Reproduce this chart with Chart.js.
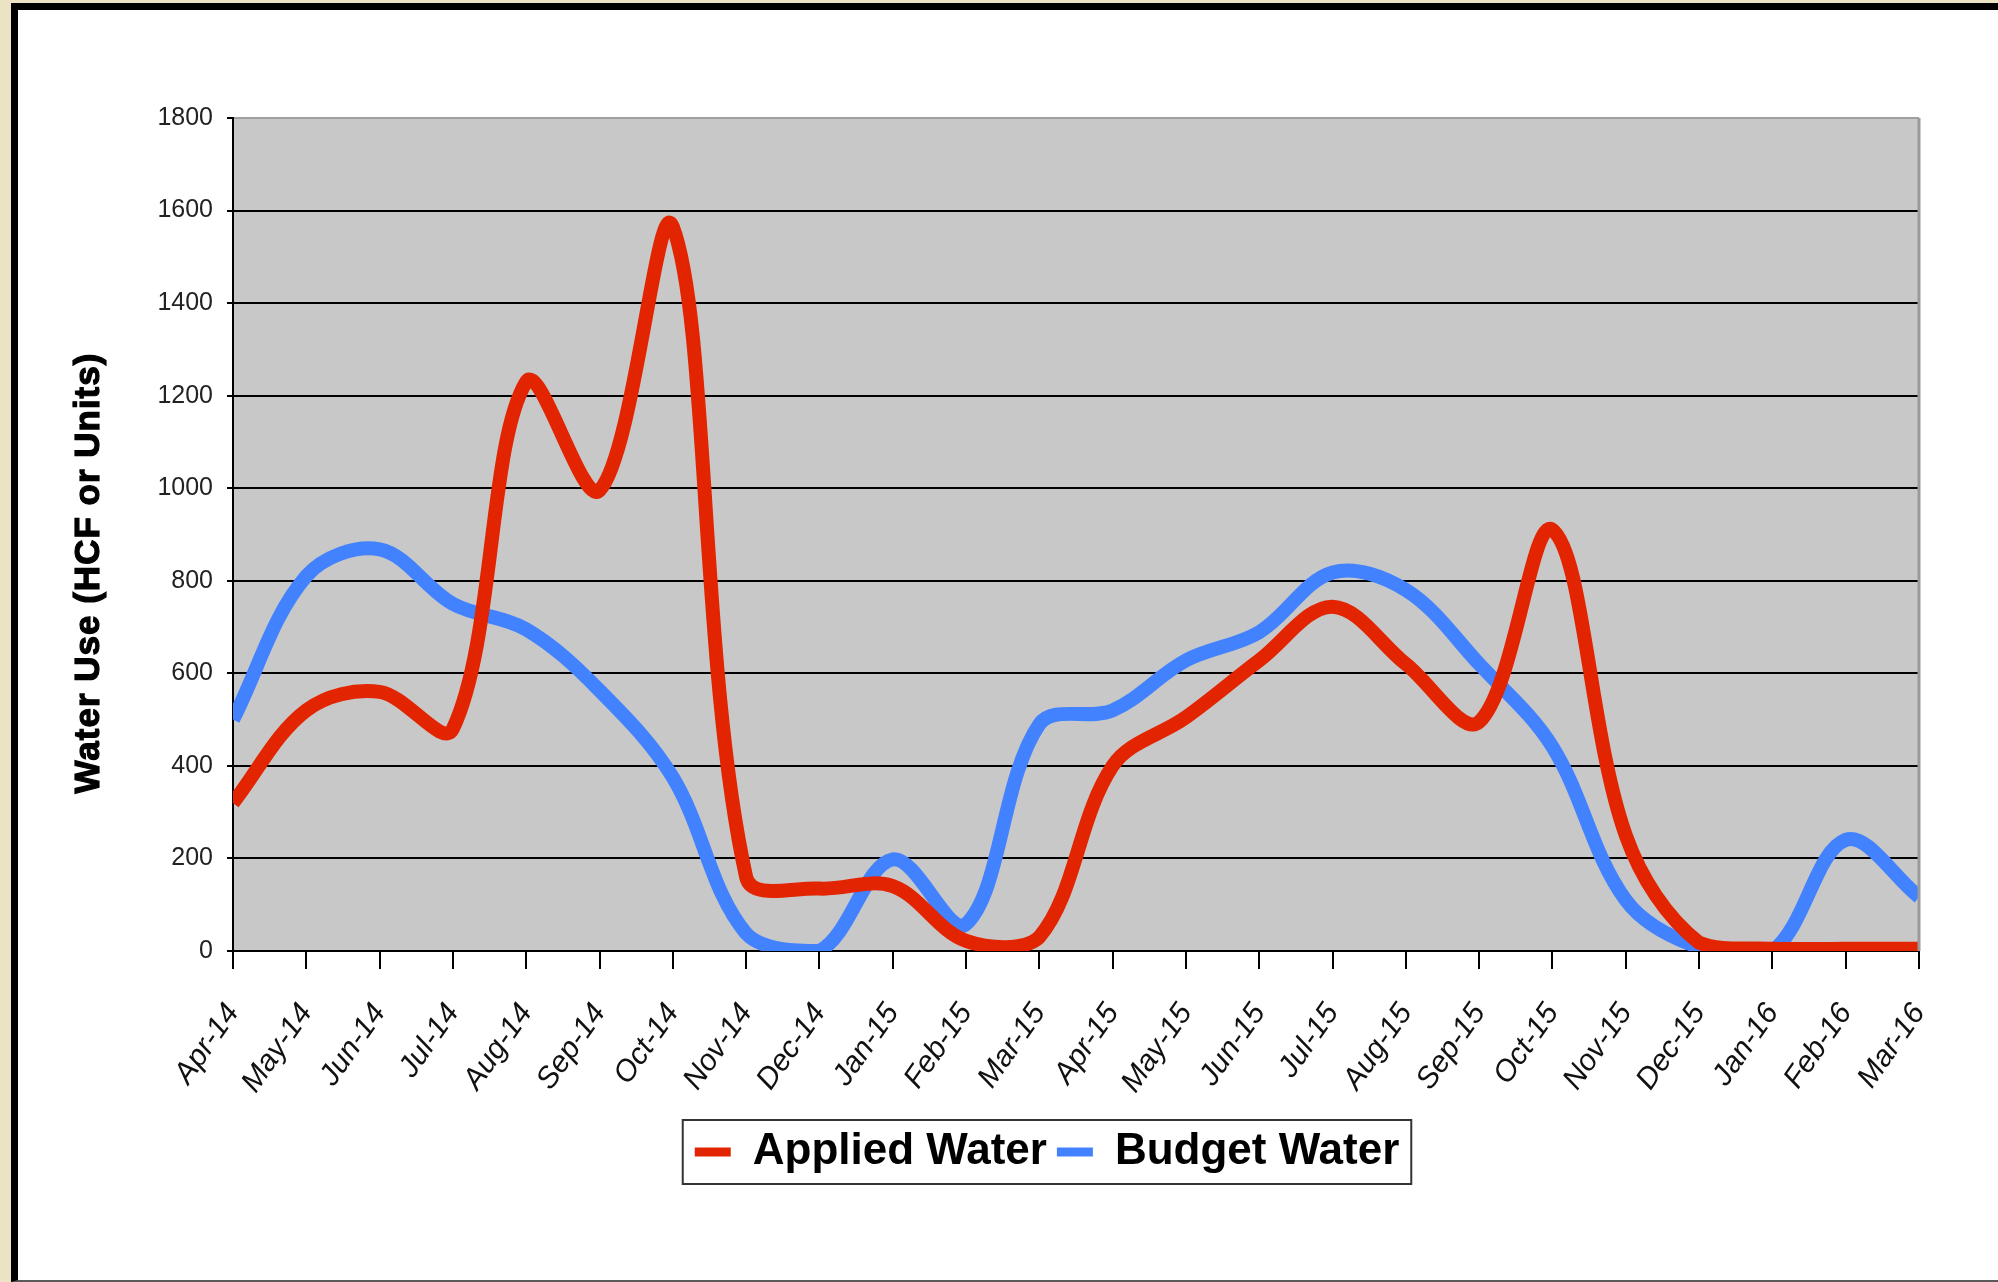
<!DOCTYPE html>
<html>
<head>
<meta charset="utf-8">
<title>Water Use</title>
<script src="https://cdn.jsdelivr.net/npm/chart.js@4.4.1/dist/chart.umd.min.js"></script>
<style>
  html, body { margin: 0; padding: 0; overflow: hidden; }
  body { width: 1998px; height: 1282px; background: #ece3c4; position: relative; }
  #frame { position: absolute; left: 11px; top: 3px; width: 1980px; height: 1270px; background: #fff;
           border-left: 7px solid #000; border-top: 7px solid #000; border-bottom: 2px solid #5a5a5a; }
  #chart2 { position: absolute; left: 0; top: 0; }
</style>
</head>
<body>
<div id="frame"></div>
<canvas id="chart2" width="2094" height="1282"></canvas>
<script>
// chart data
var months = ['Apr-14', 'May-14', 'Jun-14', 'Jul-14', 'Aug-14', 'Sep-14', 'Oct-14', 'Nov-14',
              'Dec-14', 'Jan-15', 'Feb-15', 'Mar-15', 'Apr-15', 'May-15', 'Jun-15', 'Jul-15',
              'Aug-15', 'Sep-15', 'Oct-15', 'Nov-15', 'Dec-15', 'Jan-16', 'Feb-16', 'Mar-16'];
var appliedWater = [320, 520, 560, 480, 1230, 995, 1565, 160, 135, 140, 22, 30,
                    400, 505, 628, 744, 620, 495, 910, 250, 18, 5, 5, 5];
var budgetWater = [500, 810, 868, 750, 695, 563, 375, 38, 0, 198, 58, 490,
                   520, 628, 689, 818, 780, 620, 441, 110, 8, 0, 240, 117];
var yTicks = [0, 200, 400, 600, 800, 1000, 1200, 1400, 1600, 1800];

var RED = '#e32400';
var BLUE = '#4282ff';

Chart.defaults.font.family = '"Liberation Sans", Arial, sans-serif';

// grey plot background, grey right edge, legend frame and y title
var decor = {
    id: 'decor',
    beforeDraw: function (chart) {
        var a = chart.chartArea, ctx = chart.ctx;
        ctx.save();
        ctx.fillStyle = '#c8c8c8';
        ctx.fillRect(a.left, a.top, a.right - a.left, a.bottom - a.top);
        ctx.restore();
    },
    afterDraw: function (chart) {
        var a = chart.chartArea, ctx = chart.ctx;
        ctx.save();
        ctx.strokeStyle = '#9a9a9a';
        ctx.lineWidth = 3;
        ctx.beginPath();
        ctx.moveTo(a.right, a.top);
        ctx.lineTo(a.right, a.bottom);
        ctx.stroke();

        var hb = chart.legend.legendHitBoxes;
        if (hb && hb.length) {
            var first = hb[0], last = hb[hb.length - 1];
            var l = first.left - 12, r = last.left + last.width + 12;
            var t = first.top - 10, b = first.top + first.height + 10;
            ctx.strokeStyle = '#333';
            ctx.lineWidth = 2;
            ctx.strokeRect(l, t, r - l, b - t);
        }

        ctx.translate(89, 573);
        ctx.rotate(-Math.PI / 2);
        ctx.font = 'bold 35px "Liberation Sans", Arial, sans-serif';
        ctx.letterSpacing = '1px';
        ctx.fillStyle = '#000';
        ctx.strokeStyle = '#000';
        ctx.lineWidth = 1.2;
        ctx.textAlign = 'center';
        ctx.textBaseline = 'middle';
        ctx.fillText('Water Use (HCF or Units)', 0, 0);
        ctx.strokeText('Water Use (HCF or Units)', 0, 0);
        ctx.restore();
    }
};

var ctx = document.getElementById('chart2').getContext('2d');

var myChart = new Chart(ctx, {
    type: 'line',
    data: {
        labels: months,
        datasets: [{
            label: 'Applied Water',
            data: appliedWater,
            borderColor: RED,
            backgroundColor: RED,
            borderWidth: 14,
            pointRadius: 0,
            tension: 0.35,
            borderJoinStyle: 'round',
            clip: 0
        }, {
            label: 'Budget Water',
            data: budgetWater,
            borderColor: BLUE,
            backgroundColor: BLUE,
            borderWidth: 14,
            pointRadius: 0,
            tension: 0.35,
            borderJoinStyle: 'round',
            clip: 0
        }]
    },
    options: {
        responsive: false,
        animation: false,
        layout: {
            padding: { left: 0, right: 0, top: 118, bottom: 98 }
        },
        scales: {
            x: {
                afterFit: function (scale) { scale.height = 169; },
                grid: {
                    drawOnChartArea: false,
                    drawTicks: true,
                    tickLength: 18,
                    color: '#000',
                    lineWidth: 2
                },
                border: { color: '#000', width: 2 },
                ticks: {
                    autoSkip: false,
                    minRotation: 55,
                    maxRotation: 55,
                    padding: 28,
                    color: '#111',
                    font: { size: 30, style: 'italic' }
                }
            },
            y: {
                min: 0,
                max: 1800,
                afterFit: function (scale) { scale.width = 233; },
                afterBuildTicks: function (scale) {
                    scale.ticks = yTicks.map(function (v) { return { value: v }; });
                },
                grid: {
                    color: function (c) { return c.tick && c.tick.value === 1800 ? '#a0a0a0' : '#000'; },
                    lineWidth: 2,
                    tickLength: 6,
                    tickColor: '#000'
                },
                border: { color: '#000', width: 2 },
                ticks: {
                    padding: 14,
                    color: '#222',
                    font: { size: 25 },
                    callback: function (value) { return String(value); }
                }
            },
            // empty right-hand box so the legend centres where the original one sits
            spacer: {
                position: 'right',
                afterFit: function (scale) { scale.width = 175; },
                grid: { display: false, drawTicks: false },
                border: { display: false },
                ticks: { display: false }
            }
        },
        plugins: {
            legend: {
                position: 'bottom',
                labels: {
                    boxWidth: 36,
                    boxHeight: 9,
                    padding: 10,
                    color: '#000',
                    font: { size: 44, weight: 'bold' },
                    generateLabels: function (chart) {
                        var items = Chart.defaults.plugins.legend.labels.generateLabels(chart);
                        items.forEach(function (it) {
                            it.lineWidth = 0;
                            it.fillStyle = it.strokeStyle;
                        });
                        return items;
                    }
                }
            },
            tooltip: { enabled: false }
        }
    },
    plugins: [decor]
});
</script>
</body>
</html>
